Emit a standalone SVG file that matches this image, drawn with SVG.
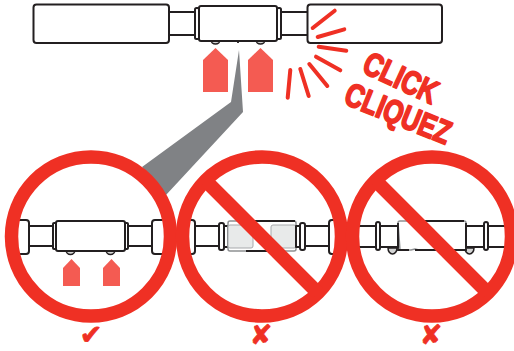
<svg xmlns="http://www.w3.org/2000/svg" width="514" height="351" viewBox="0 0 514 351">
<style>
.p{fill:#fff;stroke:#231f20;stroke-width:2;stroke-linejoin:round}
.q{fill:#fff;stroke:#8f9193;stroke-width:1.500;stroke-linejoin:round}
.k{fill:none;stroke:#231f20;stroke-width:1.800}
.d{fill:#d4d5d5;stroke:#231f20;stroke-width:1.500}
.a{fill:#f45b52}
.r{fill:none;stroke:#ef3024;stroke-width:13.500}
.s{stroke:#ef3024;stroke-width:14;fill:none}
.y{stroke:#ef3024;stroke-width:4;stroke-linecap:round;fill:none}
.g{fill:#e8eaea;stroke:#a7a9ac;stroke-width:1}
.l{font-family:"Liberation Sans",sans-serif;font-weight:700;fill:#ef3024;stroke:#ef3024;stroke-width:1.800;stroke-linejoin:round;font-size:33px;text-anchor:middle}
.m{font-family:"DejaVu Sans",sans-serif;font-weight:700;fill:#ef3024;stroke:#ef3024;stroke-width:.8;font-size:27px;text-anchor:middle}
</style>
<path id="pointer" d="M239 50L231 102L142 167L166 195L243 112Z" fill="#808285"/>
<g id="top-coupling">
<rect class="p" x="33.500" y="4.500" width="135.500" height="38.500" rx="3"/>
<rect class="p" x="169" y="12" width="26" height="23"/>
<rect class="p" x="195" y="8" width="4" height="31" rx="1.500"/>
<path class="d" d="M211 40a4.500 4 0 0 0 9 0Z"/>
<path class="d" d="M256 40a4.500 4 0 0 0 9 0Z"/>
<rect class="p" x="199" y="6" width="78" height="35" rx="2"/>
<path class="k" d="M238 41v2"/>
<rect class="p" x="277" y="8" width="4" height="31" rx="1.500"/>
<rect class="p" x="281" y="12" width="27" height="23"/>
<rect class="p" x="307.500" y="4.500" width="134.500" height="38.500" rx="3"/>
</g>
<g id="top-arrows">
<path class="a" d="M203 92V60L215.500 48L228 60V92Z"/>
<path class="a" d="M248 92V60L260.500 48L273 60V92Z"/>
</g>
<g id="click-rays">
<path class="y" d="M312.700 28L334.700 10.700M317.700 37L344.300 29.300M318.700 46.700L346.300 50.700M316 56.700L340.300 70.300M309.300 64L327.300 86M300.300 69L308.700 96M290.300 70L287.700 97.700"/>
</g>
<text class="l" transform="translate(396 88) rotate(25) scale(.78 1)">CLICK</text>
<text class="l" transform="translate(394 124) rotate(22) scale(.77 1)">CLIQUEZ</text>
<g id="correct">
<rect class="p" x="10" y="220" width="19" height="34" rx="3"/>
<rect class="p" x="29" y="226" width="24" height="20"/>
<rect class="p" x="53" y="223" width="3" height="26" rx="1"/>
<path class="d" d="M66 250a4.500 4.500 0 0 0 9 0Z"/>
<path class="d" d="M106 250a4.500 4.500 0 0 0 9 0Z"/>
<rect class="p" x="56" y="221" width="69" height="30" rx="2"/>
<path class="k" d="M90.500 250v2"/>
<rect class="p" x="125" y="223" width="3" height="26" rx="1"/>
<rect class="p" x="128" y="226" width="24" height="20"/>
<rect class="p" x="152" y="220" width="19" height="34" rx="3"/>
<path class="a" d="M63 286V268L71.500 259L80 268V286Z"/>
<path class="a" d="M103 286V268L111.500 259L120 268V286Z"/>
<circle class="r" cx="91" cy="236.500" r="79.500"/>
<text class="m" x="91" y="344">✔</text>
</g>
<g id="wrong-1">
<rect class="p" x="185" y="220" width="10" height="34" rx="3"/>
<rect class="p" x="195" y="226" width="24" height="20"/>
<rect class="p" x="219" y="223" width="5" height="27" rx="2"/>
<rect class="p" x="224" y="226" width="4" height="21"/>
<rect class="q" x="228" y="221" width="68" height="30" rx="2"/>
<rect class="g" x="228" y="225" width="25" height="23" rx="2"/>
<rect class="g" x="271" y="225" width="25" height="23" rx="2"/>
<path class="k" d="M254 221H295M246 251H268"/>
<rect class="p" x="296" y="226" width="4" height="21"/>
<rect class="p" x="300" y="223" width="5" height="27" rx="2"/>
<rect class="p" x="305" y="226" width="24" height="20"/>
<rect class="p" x="329" y="220" width="10" height="34" rx="3"/>
<circle class="r" cx="262" cy="236.500" r="79.500"/>
<path class="s" d="M206 181L318 293"/>
<text class="m" x="261" y="344">✘</text>
</g>
<g id="wrong-2">
<rect class="p" x="355" y="226" width="21" height="21"/>
<rect class="p" x="376" y="222" width="4" height="28" rx="2"/>
<rect class="p" x="380" y="226" width="18" height="21"/>
<path class="d" d="M388 248a4.500 6 0 0 0 9 0Z"/>
<path class="d" d="M465 248a4.500 6 0 0 0 9 0Z"/>
<path class="q" d="M398 223q0-2 2-2h64q2 0 2 2v27h-47l-4-1l-4 1h-11Z"/>
<path class="k" d="M398 223V250H409M415 250H466V223M422 221H464"/>
<rect class="p" x="466" y="226" width="18" height="21"/>
<rect class="p" x="484" y="222" width="4" height="28" rx="2"/>
<rect class="p" x="488" y="226" width="21" height="21"/>
<circle class="r" cx="432" cy="236.500" r="79.500"/>
<path class="s" d="M376 181L488 293"/>
<text class="m" x="431" y="344">✘</text>
</g>
</svg>
